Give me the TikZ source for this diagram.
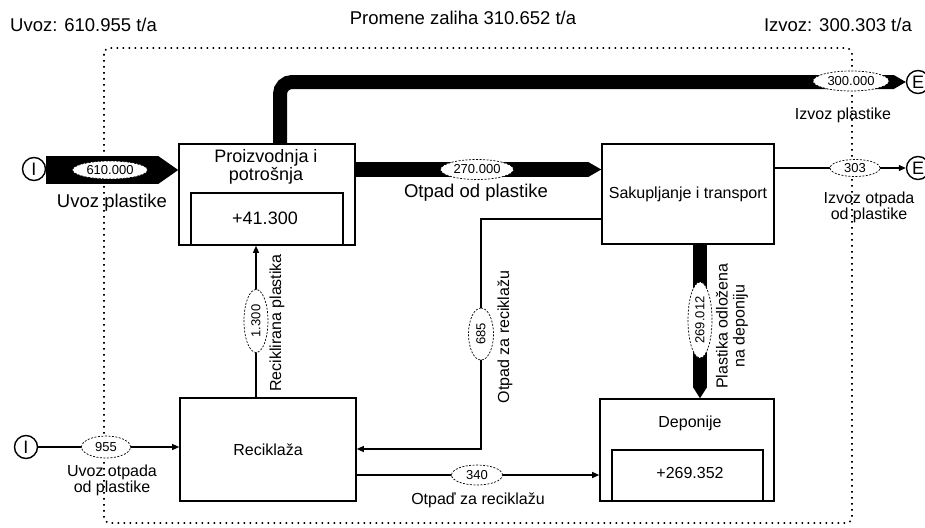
\documentclass[tikz,border=0pt]{standalone}
\usepackage{fontspec}
\setmainfont{Liberation Sans}
\usetikzlibrary{arrows.meta,shapes.geometric}
\begin{document}
\begin{tikzpicture}[x=1pt,y=1pt,yscale=-1,
  proces/.style={draw,line width=1.6pt,inner sep=0pt,font=\fontsize{16}{16}\selectfont},
  zalihe/.style={line width=1.6pt},
  kolicina/.style={ellipse,draw,dash pattern=on 2pt off 1.5pt,line width=0.7pt,fill=white,inner sep=0pt,font=\fontsize{13}{13}\selectfont},
  granica/.style={circle,draw,line width=1.4pt,minimum size=23pt,inner sep=0pt,font=\fontsize{18}{18}\selectfont},
  tanko/.style={line width=1.2pt,-{Triangle[length=7pt,width=6pt]}},
  debelo/.style n args={2}{line width=#1,-{Triangle[length=#2,width=#1,line width=0pt]}},
  oznaka/.style={inner sep=0pt,font=\fontsize{16}{16}\selectfont,align=center},
  naslov/.style={inner sep=0pt,font=\fontsize{18.5}{20}\selectfont,align=center},
  okvir/.style={line width=1.6pt,dash pattern=on 1.6pt off 4.4pt,rounded corners=6pt}]
\useasboundingbox (0,0) rectangle (925,527);

% system boundary
\draw[okvir] (104,48) rectangle (852,523);

% processes
\node[proces,minimum width=176pt,minimum height=101pt] (proiz) at (267,194.5) {};
\node[proces,minimum width=172pt,minimum height=100pt] (sakup) at (688,194) {Sakupljanje i transport};
\node[proces,minimum width=176pt,minimum height=103pt] (recik) at (268,449.5) {Reciklaža};
\node[proces,minimum width=174pt,minimum height=102pt] (depon) at (687,450) {};
\draw[zalihe] (191,245) -- (191,193) -- (343,193) -- (343,245);
\draw[zalihe] (612,501) -- (612,450) -- (763,450) -- (763,501);

% import / export
\node[granica] (uvozP) at (34,169) {I};
\node[granica] (uvozO) at (26,447) {I};
\node[granica] (izvozP) at (918,82) {E};
\node[granica] (izvozO) at (918,168) {E};

% flow label positions
\coordinate (k610) at (110,170);
\coordinate (k300) at (851,81);
\coordinate (k270) at (477,169.5);
\coordinate (k303) at (855,168);
\coordinate (k269) at (700,320);
\coordinate (k1300) at (256,321);
\coordinate (s685) at (481,219);
\coordinate (r685) at (481,449);
\coordinate (k685) at (481,334);
\coordinate (k340) at (477,475);
\coordinate (k955) at (106,447);

% flows
\draw[debelo={28pt}{20pt}] (uvozP.east |- k610) -- (k610 -| proiz.west);
\draw[debelo={14pt}{12pt},rounded corners=12pt] ([xshift=13pt]proiz.north) |- (izvozP.west);
\draw[debelo={15pt}{13pt}] (proiz.east |- k270) -- (sakup.west |- k270);
\draw[tanko] (sakup.east |- k303) -- (izvozO.west);
\draw[debelo={14pt}{11pt}] (sakup.south -| k269) -- (depon.north -| k269);
\draw[tanko] (recik.north -| k1300) -- (proiz.south -| k1300);
\draw[tanko] (sakup.west |- s685) -- (s685) -- (r685) -- (recik.east |- r685);
\draw[tanko] (recik.east |- k340) -- (depon.west |- k340);
\draw[tanko] (uvozO.east) -- (recik.west |- uvozO);

% flow values
\node[kolicina,minimum width=75pt,minimum height=18pt] (v610) at (k610) {610.000};
\node[kolicina,minimum width=76pt,minimum height=20pt] (v300) at (k300) {300.000};
\node[kolicina,minimum width=73pt,minimum height=20pt] (v270) at (k270) {270.000};
\node[kolicina,minimum width=50pt,minimum height=17pt] (v303) at (k303) {303};
\node[kolicina,rotate=90,minimum width=76pt,minimum height=24pt] (v269) at (k269) {269.012};
\node[kolicina,rotate=90,minimum width=63pt,minimum height=24pt] (v1300) at (k1300) {1.300};
\node[kolicina,rotate=90,minimum width=52pt,minimum height=25pt] (v685) at (k685) {685};
\node[kolicina,minimum width=51pt,minimum height=20pt] (v340) at (k340) {340};
\node[kolicina,minimum width=49pt,minimum height=22pt] (v955) at (k955) {955};

% Text Node
\node[naslov,anchor=west] (tUvoz) at (10,25) {Uvoz: 610.955 t/a};
\node[naslov] (tPromene) at (463,18) {Promene zaliha 310.652 t/a};
\node[naslov,anchor=east] (tIzvoz) at (912,25) {Izvoz: 300.303 t/a};
% Text Node
\node[naslov,font=\fontsize{18}{15}\selectfont] (tProiz) at (266,167) {Proizvodnja i\\potrošnja};
\node[naslov,font=\fontsize{18}{18}\selectfont] (tZalP) at (265,218) {+41.300};
\node[oznaka] (tDepon) at (690,423) {Deponije};
\node[oznaka] (tZalD) at (690,473) {+269.352};
% Text Node
\node[naslov] (lUvozP) at (112,203) {Uvoz plastike};
\node[naslov] (lOtpad) at (476,193) {Otpad od plastike};
\node[oznaka] (lIzvozP) at (843,115) {Izvoz plastike};
\node[oznaka] (lIzvozO) at (869,207) {Izvoz otpada\\od plastike};
\node[oznaka] (lUvozO) at (112,480) {Uvoz otpada\\od plastike};
\node[oznaka] (lRec) at (478,500) {Otpaď za reciklažu};
\node[oznaka,rotate=90] (lRecikl) at (277,323) {Reciklirana plastika};
\node[oznaka,rotate=90] (lZaRec) at (505,337) {Otpad za reciklažu};
\node[oznaka,rotate=90,font=\fontsize{16}{17}\selectfont] (lDepon) at (732,326) {Plastika odložena\\na deponiju};
\end{tikzpicture}
\end{document}
